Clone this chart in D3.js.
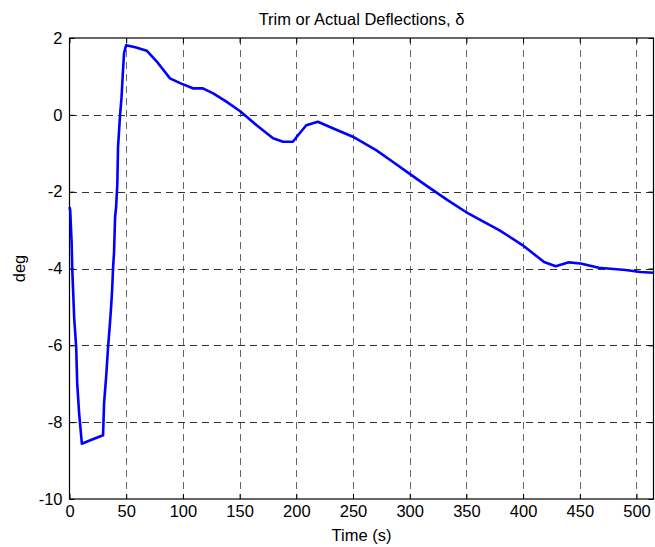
<!DOCTYPE html>
<html><head><meta charset="utf-8">
<script src="https://cdn.jsdelivr.net/npm/d3@7"></script>
<style>body{margin:0;background:#fff}svg{display:block}text{font-family:"Liberation Sans",Arial,sans-serif}</style>
</head><body><svg id="c" width="655" height="547"></svg>
<script>
const timeS = [0,0.6,1.9,2.4,4.1,5.9,6.8,8.5,10.9,20,29.6,30.5,32.3,34.0,35.4,36.7,37.6,38.4,39.3,40.2,41.1,42.2,42.8,44.6,45.9,46.8,48.1,49.9,58,68.1,78,88.6,98,108.8,117.6,126.7,138,150.2,165,179.5,188.3,197,203,208.8,219,232.2,249.8,270.4,285,299.7,315,333.4,349.6,365,378.9,399.4,418.5,428.8,440.4,450.7,466.8,490.3,503.5,515];
const deflDeg = [-2.4,-2.48,-3.34,-3.99,-5.27,-6.05,-6.99,-7.77,-8.56,-8.45,-8.34,-7.5,-6.83,-6.05,-5.53,-5.0,-4.56,-3.99,-3.57,-2.66,-2.40,-1.78,-0.84,0,0.46,0.96,1.61,1.81,1.76,1.67,1.35,0.95,0.82,0.69,0.69,0.56,0.35,0.1,-0.27,-0.61,-0.70,-0.70,-0.48,-0.27,-0.18,-0.35,-0.57,-0.92,-1.22,-1.53,-1.85,-2.22,-2.53,-2.78,-3.0,-3.39,-3.83,-3.94,-3.84,-3.87,-3.98,-4.04,-4.09,-4.11];
const xTicks = [0,50,100,150,200,250,300,350,400,450,500];
const yTicks = [-10,-8,-6,-4,-2,0,2];
const titleText = "Trim or Actual Deflections, δ";
const xLabel = "Time (s)";
const yLabel = "deg";

const FS = 16.5;
const svg = d3.select("#c");
const L=69.5,T=38,R=653.5,B=499;
const x = d3.scaleLinear().domain([0,515]).range([L,R]);
const y = d3.scaleLinear().domain([-10,2]).range([B,T]);

const gridV = svg.append("g").attr("stroke","#666").attr("stroke-width",1).attr("stroke-dasharray","7,5").attr("fill","none").attr("shape-rendering","crispEdges");
xTicks.forEach(t=>{ if(t>0) gridV.append("line").attr("x1",Math.round(x(t))+0.5).attr("x2",Math.round(x(t))+0.5).attr("y1",T).attr("y2",B);});
const gridH = svg.append("g").attr("stroke","#333").attr("stroke-width",1).attr("stroke-dasharray","7,5").attr("fill","none").attr("shape-rendering","crispEdges");
yTicks.forEach(t=>{ if(t>-10 && t<2) gridH.append("line").attr("y1",Math.round(y(t))+0.5).attr("y2",Math.round(y(t))+0.5).attr("x1",L).attr("x2",R);});

const gx = svg.append("g").attr("transform",`translate(0,${B})`).call(d3.axisBottom(x).tickValues(xTicks).tickSize(-5).tickPadding(6));
const gx2 = svg.append("g").attr("transform",`translate(0,${T})`).call(d3.axisTop(x).tickValues(xTicks).tickSize(-5).tickFormat(""));
const gy = svg.append("g").attr("transform",`translate(${L},0)`).call(d3.axisLeft(y).tickValues(yTicks).tickSize(-5).tickPadding(7));
const gy2 = svg.append("g").attr("transform",`translate(${R},0)`).call(d3.axisRight(y).tickValues(yTicks).tickSize(-5).tickFormat(""));
[gx,gx2,gy,gy2].forEach(g=>{g.select(".domain").remove(); g.selectAll("line").attr("stroke","#000"); g.selectAll("text").attr("font-size",FS).attr("fill","#000").attr("font-family","'Liberation Sans',Arial,sans-serif");});
gy.selectAll("text").text(d=>d<0?"-"+Math.abs(d):d);

svg.append("rect").attr("x",L).attr("y",T).attr("width",R-L).attr("height",B-T).attr("fill","none").attr("stroke","#000").attr("stroke-width",1.2);

const line = d3.line().x((d,i)=>x(timeS[i])).y(d=>y(d));
svg.append("path").datum(deflDeg).attr("d",line).attr("fill","none").attr("stroke","#0000ff").attr("stroke-width",2.6).attr("stroke-linejoin","round");

svg.append("text").attr("x",(L+R)/2).attr("y",25).attr("text-anchor","middle").attr("font-size",FS).text(titleText);
svg.append("text").attr("x",(L+R)/2).attr("y",541).attr("text-anchor","middle").attr("font-size",FS).text(xLabel);
svg.append("text").attr("transform",`translate(25,${(T+B)/2}) rotate(-90)`).attr("text-anchor","middle").attr("font-size",FS).text(yLabel);
</script></body></html>
